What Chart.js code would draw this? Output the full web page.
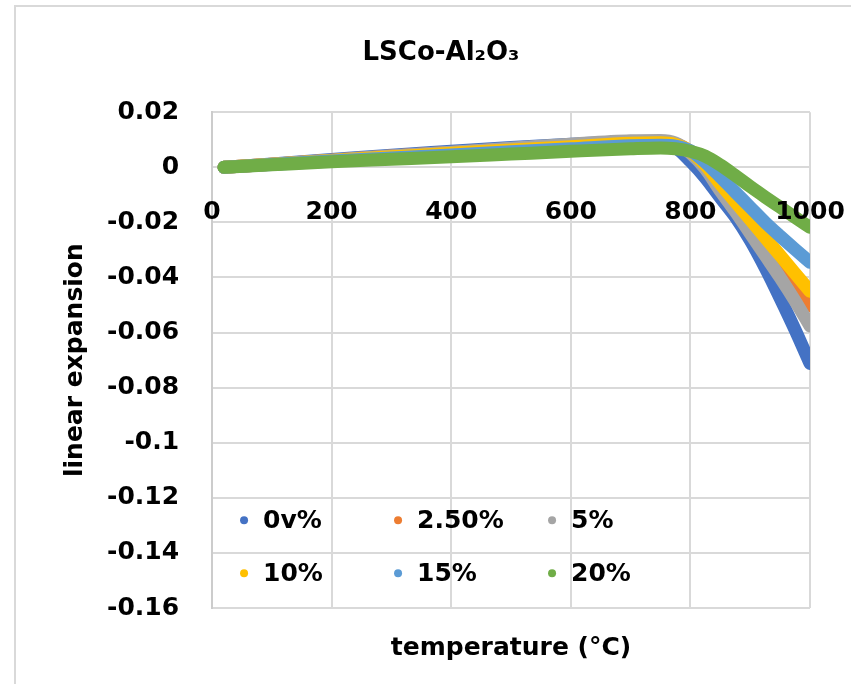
<!DOCTYPE html>
<html><head><meta charset="utf-8">
<script src="https://cdn.jsdelivr.net/npm/chart.js@4"></script>
<style>html,body{margin:0;padding:0;background:#fff;}</style>
</head><body>
<canvas id="c" width="851" height="684"></canvas>
<script>
const chartTitle = 'LSCo-Al₂O₃';
const xTitle = 'temperature (°C)';
const yTitle = 'linear expansion';
const seriesNames = ['0v%', '2.50%', '5%', '10%', '15%', '20%'];
const seriesColors = ['#4472C4', '#ED7D31', '#A5A5A5', '#FFC000', '#5B9BD5', '#70AD47'];
const temperatures = [20, 100, 200, 300, 400, 500, 600, 700, 750, 775, 800, 825, 850, 875, 900, 925, 950, 975, 1000];
const exp0 =   [0, 0.0012, 0.0028, 0.0044, 0.0058, 0.0072, 0.0084, 0.0092, 0.0090, 0.0072, 0.0022, -0.0038, -0.0110, -0.0180, -0.0265, -0.0365, -0.0475, -0.0590, -0.0712];
const exp2_5 = [0, 0.0011, 0.0026, 0.0041, 0.0054, 0.0067, 0.0080, 0.0091, 0.0092, 0.0086, 0.0058, 0.0012, -0.0075, -0.0140, -0.0210, -0.0280, -0.0350, -0.0425, -0.0503];
const exp5 =   [0, 0.0011, 0.0026, 0.0041, 0.0055, 0.0069, 0.0084, 0.0096, 0.0097, 0.0088, 0.0052, -0.0005, -0.0085, -0.0160, -0.0240, -0.0320, -0.0400, -0.0485, -0.0576];
const exp10 =  [0, 0.0011, 0.0025, 0.0038, 0.0051, 0.0063, 0.0075, 0.0087, 0.0089, 0.0083, 0.0058, 0.0008, -0.0060, -0.0125, -0.0190, -0.0255, -0.0320, -0.0385, -0.0450];
const exp15 =  [0, 0.0010, 0.0023, 0.0034, 0.0045, 0.0056, 0.0067, 0.0078, 0.0080, 0.0077, 0.0060, 0.0018, -0.0035, -0.0090, -0.0145, -0.0200, -0.0250, -0.0298, -0.0345];
const exp20 =  [0, 0.0009, 0.0020, 0.0029, 0.0038, 0.0048, 0.0058, 0.0067, 0.0070, 0.0067, 0.0058, 0.0040, 0.0008, -0.0030, -0.0070, -0.0108, -0.0145, -0.0182, -0.0218];
const xTicks = [0, 200, 400, 600, 800, 1000];
const yTicks = [0.02, 0, -0.02, -0.04, -0.06, -0.08, -0.1, -0.12, -0.14, -0.16];

const seriesValues = [exp0, exp2_5, exp5, exp10, exp15, exp20];
const FONT = 'DejaVu Sans';
Chart.defaults.font.family = FONT;
Chart.defaults.color = '#000';

const datasets = seriesValues.map((vals, i) => ({
  label: seriesNames[i],
  data: temperatures.map((t, k) => ({x: t, y: vals[k]})),
  borderColor: seriesColors[i],
  backgroundColor: seriesColors[i],
  borderWidth: 13,
  pointRadius: 0,
  borderCapStyle: 'round',
  borderJoinStyle: 'round',
  cubicInterpolationMode: 'monotone',
  fill: false,
  order: seriesValues.length - 1 - i
}));

const framePlugin = {
  id: 'frame',
  beforeDraw(chart) {
    const ctx = chart.ctx;
    ctx.save();
    ctx.strokeStyle = '#d9d9d9';
    ctx.lineWidth = 2;
    ctx.beginPath();
    ctx.moveTo(15, chart.height);
    ctx.lineTo(15, 6);
    ctx.lineTo(chart.width, 6);
    ctx.stroke();
    ctx.restore();
  }
};

const insideLegend = {
  id: 'insideLegend',
  afterDraw(chart) {
    const {ctx, chartArea} = chart;
    ctx.save();
    ctx.font = 'bold 25px "' + FONT + '"';
    ctx.textBaseline = 'middle';
    chart.data.datasets.forEach((ds, i) => {
      const col = i % 3, row = Math.floor(i / 3);
      const x = chartArea.left + 32 + col * 154;
      const y = chartArea.top + 408 + row * 53;
      ctx.beginPath();
      ctx.arc(x, y, 4, 0, Math.PI * 2);
      ctx.fillStyle = ds.borderColor;
      ctx.fill();
      ctx.fillStyle = '#000';
      ctx.fillText(ds.label, x + 19, y + 1);
    });
    ctx.restore();
  }
};

new Chart(document.getElementById('c'), {
  type: 'line',
  data: {datasets},
  plugins: [framePlugin, insideLegend],
  options: {
    responsive: false,
    animation: false,
    layout: {padding: {left: 72, right: 41, top: 0, bottom: 0}},
    plugins: {
      legend: {display: false},
      tooltip: {enabled: false},
      title: {
        display: true,
        text: chartTitle,
        color: '#000',
        font: {family: FONT, size: 26, weight: 'bold'},
        padding: {top: 38, bottom: 43}
      }
    },
    scales: {
      x: {
        type: 'linear',
        min: 0, max: 1000,
        position: {y: 0},
        afterBuildTicks: s => { s.ticks = xTicks.map(v => ({value: v})); },
        afterFit: s => { s.paddingLeft = 0; s.paddingRight = 0; },
        ticks: {
          font: {family: FONT, size: 25, weight: 'bold'},
          color: '#000',
          padding: 30,
          maxRotation: 0,
          autoSkip: false,
          z: 1,
          callback: v => String(v)
        },
        grid: {color: '#d9d9d9', lineWidth: 2, drawTicks: false},
        border: {color: '#d9d9d9', width: 2}
      },
      x2: {
        type: 'linear',
        position: 'bottom',
        display: true,
        afterFit: s => { s.paddingLeft = 0; s.paddingRight = 0; },
        ticks: {display: false},
        grid: {display: false, drawTicks: false},
        border: {display: false},
        title: {
          display: true,
          text: xTitle,
          color: '#000',
          font: {family: FONT, size: 25, weight: 'bold'},
          padding: {top: 25, bottom: 21}
        }
      },
      y: {
        type: 'linear',
        min: -0.16, max: 0.02,
        afterBuildTicks: s => { s.ticks = yTicks.map(v => ({value: v})); },
        ticks: {
          font: {family: FONT, size: 25, weight: 'bold'},
          color: '#000',
          padding: 33,
          callback: v => String(v)
        },
        grid: {color: '#d9d9d9', lineWidth: 2, drawTicks: false},
        border: {color: '#cccccc', width: 2},
        title: {
          display: true,
          text: yTitle,
          color: '#000',
          font: {family: FONT, size: 25, weight: 'bold'},
          padding: {top: -12, bottom: -16}
        }
      }
    }
  }
});
</script>
</body></html>
